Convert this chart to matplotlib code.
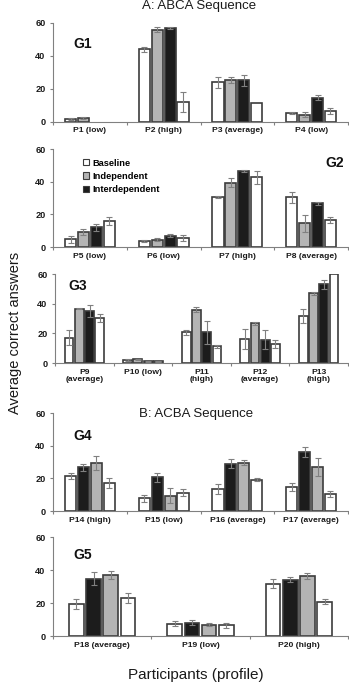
import numpy as np
import matplotlib
matplotlib.use('Agg')
import matplotlib.pyplot as plt
from matplotlib.patches import Patch

plt.rcParams['font.family'] = ['Liberation Sans', 'DejaVu Sans']

# ---- data ----
# A: ABCA sequence -> bar order: baseline, independent, interdependent, baseline (return)
g1_labels = ['P1 (low)', 'P2 (high)', 'P3 (average)', 'P4 (low)']
g1_base = [1.6, 44.0, 24.0, 5.4]
g1_base_err = [0.5, 1.6, 3.4, 0.6]
g1_ind = [2.2, 56.0, 25.4, 4.4]
g1_ind_err = [0.5, 1.4, 2.0, 1.7]
g1_inter = [0.0, 57.0, 25.2, 14.6]
g1_inter_err = [0.0, 0.8, 3.2, 1.6]
g1_ret = [0.0, 12.2, 11.4, 6.4]
g1_ret_err = [0.0, 6.0, 0.0, 1.8]

g2_labels = ['P5 (low)', 'P6 (low)', 'P7 (high)', 'P8 (average)']
g2_base = [4.7, 3.7, 30.4, 30.4]
g2_base_err = [2.0, 0.4, 0.6, 3.2]
g2_ind = [9.2, 4.4, 39.5, 14.5]
g2_ind_err = [1.8, 1.0, 2.9, 5.0]
g2_inter = [12.1, 7.0, 46.5, 26.8]
g2_inter_err = [2.2, 0.9, 0.8, 0.8]
g2_ret = [15.8, 5.6, 42.7, 16.6]
g2_ret_err = [2.6, 1.8, 3.8, 1.8]

g3_labels = ['P9\n(average)', 'P10 (low)', 'P11\n(high)', 'P12\n(average)', 'P13\n(high)']
g3_base = [17.2, 2.0, 20.8, 16.2, 31.6]
g3_base_err = [4.8, 0.4, 1.6, 6.6, 4.7]
g3_ind = [36.6, 2.4, 36.0, 26.7, 47.0]
g3_ind_err = [0.4, 0.5, 1.8, 1.0, 0.9]
g3_inter = [35.3, 1.3, 20.8, 15.7, 53.0]
g3_inter_err = [4.0, 0.3, 7.8, 6.3, 3.0]
g3_ret = [30.4, 1.3, 11.2, 13.0, 60.0]
g3_ret_err = [2.7, 0.3, 1.0, 2.8, 0.0]

# B: ACBA sequence -> bar order: baseline, interdependent, independent, baseline (return)
g4_labels = ['P14 (high)', 'P15 (low)', 'P16 (average)', 'P17 (average)']
g4_base = [21.5, 7.8, 13.5, 14.8]
g4_base_err = [1.8, 2.0, 3.2, 2.6]
g4_inter = [26.7, 20.6, 28.9, 36.0]
g4_inter_err = [2.4, 2.8, 2.8, 3.0]
g4_ind = [29.2, 9.4, 29.7, 27.0]
g4_ind_err = [4.2, 4.6, 1.4, 5.5]
g4_ret = [16.9, 11.2, 19.3, 10.5]
g4_ret_err = [3.1, 2.0, 1.2, 2.0]

g5_labels = ['P18 (average)', 'P19 (low)', 'P20 (high)']
g5_base = [19.2, 7.5, 31.6]
g5_base_err = [3.0, 1.4, 2.7]
g5_inter = [34.8, 8.0, 34.2]
g5_inter_err = [3.8, 1.5, 1.6]
g5_ind = [37.0, 6.9, 36.6]
g5_ind_err = [2.4, 0.8, 1.8]
g5_ret = [23.3, 6.4, 20.9]
g5_ret_err = [3.0, 1.4, 1.7]

WHITE, GREY, BLACK = 'white', '#b4b4b4', '#1c1c1c'
EDGE = '#3c3c3c'
ERRC = '#808080'


def draw_panel(ax, labels, series):
    n = len(labels)
    x = np.arange(n)
    slot = 0.175
    width = 0.15
    offs = (np.arange(len(series)) - (len(series) - 1) / 2) * slot
    for (vals, errs, fill), off in zip(series, offs):
        v = np.array(vals)
        e = np.array(errs)
        has = v > 0  # no bar drawn for empty sessions
        ax.bar((x + off)[has], v[has], width, color=fill, edgecolor=EDGE,
               linewidth=1.2, zorder=2)
        m = e > 0
        ax.errorbar((x + off)[m], v[m], yerr=e[m], fmt='none',
                    ecolor=ERRC, elinewidth=0.8, capsize=2.0, capthick=0.8, zorder=3)
    ax.set_xlim(-0.5, n - 0.5)
    ax.set_ylim(0, 60)
    ax.set_yticks([0, 20, 40, 60])
    ax.set_xticks(x)
    ax.set_xticklabels(labels, fontsize=6.1, fontweight='bold', color='#1a1a1a',
                       linespacing=1.1)
    ax.set_xticks(np.arange(n + 1) - 0.5, minor=True)
    ax.tick_params(axis='x', which='major', length=0, pad=4)
    ax.tick_params(axis='x', which='minor', length=2.5, color=ERRC, width=0.8)
    ax.tick_params(axis='y', length=2.5, color=ERRC, width=0.8, pad=3,
                   labelsize=6.6, labelcolor='#1a1a1a')
    for lab in ax.get_yticklabels():
        lab.set_fontweight('bold')
    for s in ['top', 'right']:
        ax.spines[s].set_visible(False)
    for s in ['left', 'bottom']:
        ax.spines[s].set_color(ERRC)
        ax.spines[s].set_linewidth(0.8)


fig = plt.figure(figsize=(3.49, 6.85), dpi=100)

ax1 = fig.add_axes([0.152, 0.822, 0.845, 0.1445])
ax2 = fig.add_axes([0.152, 0.6394, 0.845, 0.143])
ax3 = fig.add_axes([0.158, 0.470, 0.839, 0.130])
ax4 = fig.add_axes([0.152, 0.254, 0.845, 0.143])
ax5 = fig.add_axes([0.152, 0.0715, 0.845, 0.1445])

draw_panel(ax1, g1_labels, [(g1_base, g1_base_err, WHITE), (g1_ind, g1_ind_err, GREY),
                            (g1_inter, g1_inter_err, BLACK), (g1_ret, g1_ret_err, WHITE)])
draw_panel(ax2, g2_labels, [(g2_base, g2_base_err, WHITE), (g2_ind, g2_ind_err, GREY),
                            (g2_inter, g2_inter_err, BLACK), (g2_ret, g2_ret_err, WHITE)])
draw_panel(ax3, g3_labels, [(g3_base, g3_base_err, WHITE), (g3_ind, g3_ind_err, GREY),
                            (g3_inter, g3_inter_err, BLACK), (g3_ret, g3_ret_err, WHITE)])
draw_panel(ax4, g4_labels, [(g4_base, g4_base_err, WHITE), (g4_inter, g4_inter_err, BLACK),
                            (g4_ind, g4_ind_err, GREY), (g4_ret, g4_ret_err, WHITE)])
draw_panel(ax5, g5_labels, [(g5_base, g5_base_err, WHITE), (g5_inter, g5_inter_err, BLACK),
                            (g5_ind, g5_ind_err, GREY), (g5_ret, g5_ret_err, WHITE)])

# group labels
glab = dict(fontsize=10, fontweight='bold', ha='center', va='center', color='#111111')
ax1.text(0.10, 0.79, 'G1', transform=ax1.transAxes, **glab)
ax2.text(0.955, 0.857, 'G2', transform=ax2.transAxes, **glab)
ax3.text(0.078, 0.865, 'G3', transform=ax3.transAxes, **glab)
ax4.text(0.10, 0.765, 'G4', transform=ax4.transAxes, **glab)
ax5.text(0.10, 0.818, 'G5', transform=ax5.transAxes, **glab)

# sequence titles
fig.text(0.57, 0.991, 'A: ABCA Sequence', fontsize=9.5, ha='center', va='center', color='#1a1a1a')
ax4.text(0.486, 0.99, 'B: ACBA Sequence', transform=ax4.transAxes, fontsize=9.5,
         ha='center', va='center', color='#1a1a1a')

# legend in G2
handles = [Patch(facecolor=WHITE, edgecolor=EDGE, linewidth=0.8, label='Baseline'),
           Patch(facecolor=GREY, edgecolor=EDGE, linewidth=0.8, label='Independent'),
           Patch(facecolor=BLACK, edgecolor=EDGE, linewidth=0.8, label='Interdependent')]
leg = ax2.legend(handles=handles, loc='upper left', bbox_to_anchor=(0.09, 0.94),
                 frameon=False, handlelength=0.65, handleheight=0.65, handletextpad=0.3,
                 labelspacing=0.45, borderaxespad=0, prop=dict(size=6.7, weight='bold'))

fig.text(0.043, 0.514, 'Average correct answers', rotation=90, fontsize=10.5,
         ha='center', va='center', color='#1a1a1a')
fig.text(0.56, 0.015, 'Participants (profile)', fontsize=11, ha='center', va='center',
         color='#1a1a1a')

fig.savefig('out.png', dpi=100)
